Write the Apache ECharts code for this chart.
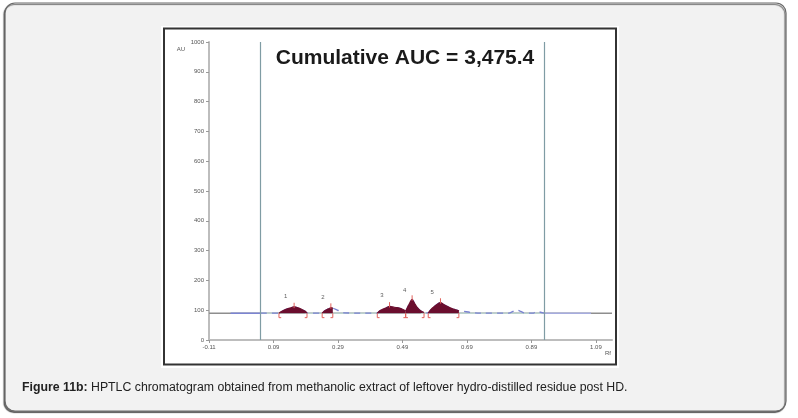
<!DOCTYPE html>
<html>
<head>
<meta charset="utf-8">
<script src="https://cdn.jsdelivr.net/npm/echarts@6/dist/echarts.min.js"></script>
<style>
  html, body { margin: 0; padding: 0; background: #fff; }
  #chart { width: 798px; height: 418px; }
</style>
</head>
<body>
<div id="chart"></div>
<script>
// tick labels
var rfTicks = [-0.11, 0.09, 0.29, 0.49, 0.69, 0.89, 1.09];
var auTicks = [0, 100, 200, 300, 400, 500, 600, 700, 800, 900, 1000];

// baseline level and solvent front / application lines (Rf)
var baselineAU = 90;
var frontRf = [0.051, 0.929];

// densitometer signal [Rf, AU]
var signalLeft = [[-0.043, 90], [0.051, 90]];
var signalMid = [
    [0.051, 90], [0.107, 90], [0.116, 96], [0.127, 102], [0.14, 107], [0.154, 111],
    [0.166, 108], [0.177, 103], [0.187, 97], [0.194, 91], [0.241, 90], [0.248, 97],
    [0.256, 102], [0.263, 106], [0.268, 109], [0.274, 107], [0.283, 103], [0.295, 97],
    [0.31, 91], [0.412, 90], [0.42, 98], [0.43, 104], [0.44, 108], [0.45, 113],
    [0.46, 111], [0.47, 109], [0.48, 107], [0.49, 103], [0.5, 97], [0.507, 112],
    [0.513, 125], [0.52, 136], [0.527, 124], [0.535, 110], [0.545, 99], [0.557, 92],
    [0.57, 91], [0.578, 102], [0.588, 112], [0.598, 120], [0.608, 126], [0.618, 119],
    [0.63, 112], [0.642, 106], [0.655, 101], [0.665, 98], [0.68, 96], [0.7, 93],
    [0.73, 90], [0.82, 90], [0.833, 96], [0.845, 100], [0.857, 96], [0.87, 90],
    [0.895, 90], [0.905, 95], [0.915, 94], [0.929, 90]
];
var signalRight = [[0.929, 90], [1.075, 90]];

// integrated peaks [Rf, AU]
var peak1 = [[0.107, 90], [0.116, 96], [0.127, 102], [0.14, 107], [0.154, 111], [0.166, 108], [0.177, 103], [0.187, 97], [0.194, 91]];
var peak2 = [[0.241, 90], [0.248, 97], [0.256, 102], [0.263, 106], [0.268, 109], [0.274, 107]];
var peak3 = [[0.412, 90], [0.42, 98], [0.43, 104], [0.44, 108], [0.45, 113], [0.46, 111], [0.47, 109], [0.48, 107], [0.49, 103], [0.5, 97]];
var peak4 = [[0.5, 97], [0.507, 112], [0.513, 125], [0.52, 136], [0.527, 124], [0.535, 110], [0.545, 99], [0.557, 92]];
var peak5 = [[0.57, 91], [0.578, 102], [0.588, 112], [0.598, 120], [0.608, 126], [0.618, 119], [0.63, 112], [0.642, 106], [0.655, 101], [0.665, 98]];
var peaks = [peak1, peak2, peak3, peak4, peak5];

// peak numbers and where they sit
var peakNames = ['1', '2', '3', '4', '5'];
var peakLabelPos = [[0.128, 145], [0.243, 143], [0.426, 149], [0.497, 165], [0.582, 159]];

var title = 'Cumulative AUC = 3,475.4';
var caption = 'HPTLC chromatogram obtained from methanolic extract of leftover hydro-distilled residue post HD.';

var peakColor = '#6b0e2e';
var markColor = '#e2625c';

var markerData = peaks.map(function (pk) {
    var top = pk[0];
    pk.forEach(function (d) { if (d[1] > top[1]) top = d; });
    return [pk[0][0], pk[pk.length - 1][0], top[0], top[1]];
});

var peakSeries = peaks.map(function (pk) {
    return {
        type: 'line',
        data: pk,
        symbol: 'none',
        smooth: 0.2,
        z: 4,
        lineStyle: {color: peakColor, width: 1.2},
        areaStyle: {color: peakColor, opacity: 1, origin: baselineAU},
        silent: true
    };
});

var myChart = echarts.init(document.getElementById('chart'));
myChart.setOption({
    animation: false,
    graphic: [
        {
            type: 'rect', z: -20, silent: true,
            shape: {x: 5, y: 3, width: 781, height: 408, r: 10},
            style: {fill: '#f2f2f2', stroke: '#6a6a6a', lineWidth: 1.2,
                shadowColor: 'rgba(0,0,0,0.55)', shadowOffsetX: -1, shadowOffsetY: 1.5, shadowBlur: 1}
        },
        {
            type: 'rect', z: -19, silent: true,
            shape: {x: 161, y: 26, width: 458, height: 342},
            style: {fill: '#ffffff'}
        },
        {
            type: 'rect', z: -18, silent: true,
            shape: {x: 164, y: 28.5, width: 452, height: 336},
            style: {fill: 'none', stroke: '#333', lineWidth: 2}
        },
        {
            type: 'text', z: 10, silent: true,
            x: 405, y: 58,
            style: {text: title, fill: '#1a1a1a', font: 'bold 21px "Liberation Sans", Arial, sans-serif',
                align: 'center', verticalAlign: 'middle'}
        },
        {
            type: 'text', z: 10, silent: true,
            x: 22, y: 388,
            style: {
                text: '{b|Figure 11b:} ' + caption,
                fill: '#222', font: '12.3px "Liberation Sans", Arial, sans-serif',
                verticalAlign: 'middle',
                rich: {b: {fontWeight: 'bold', fontSize: 12.3, fontFamily: '"Liberation Sans", Arial, sans-serif', fill: '#222'}}
            }
        }
    ],
    grid: {left: 209, right: 186, top: 42, bottom: 78},
    xAxis: {
        type: 'value',
        min: -0.11,
        max: 1.14,
        name: 'Rf',
        nameLocation: 'end',
        nameGap: -4,
        nameTextStyle: {fontSize: 6, color: '#555', align: 'center', verticalAlign: 'top', padding: [10, 0, 0, 0]},
        splitLine: {show: false},
        axisLine: {onZero: false, lineStyle: {color: '#bdbdbd', width: 2}},
        axisTick: {customValues: rfTicks, length: 3, lineStyle: {color: '#999'}},
        axisLabel: {customValues: rfTicks, fontSize: 6, color: '#555', margin: 4,
            formatter: function (v) { return v.toFixed(2); }}
    },
    yAxis: {
        type: 'value',
        min: 0,
        max: 1000,
        interval: 100,
        name: 'AU',
        nameLocation: 'end',
        nameGap: 7,
        nameTextStyle: {fontSize: 6, color: '#555', align: 'right', verticalAlign: 'top', padding: [11, 24, 0, 0]},
        splitLine: {show: false},
        axisLine: {show: true, onZero: false, lineStyle: {color: '#bdbdbd', width: 2}},
        axisTick: {show: true, length: 3, lineStyle: {color: '#999'}},
        axisLabel: {fontSize: 6, color: '#555', margin: 5,
            formatter: function (v) { return auTicks.indexOf(v) >= 0 ? String(v) : ''; }}
    },
    series: [
        {
            type: 'line',
            data: [[-0.11, baselineAU], [1.14, baselineAU]],
            symbol: 'none',
            z: 1,
            silent: true,
            lineStyle: {color: '#8e8e8e', width: 1.5},
            markLine: {
                symbol: 'none',
                silent: true,
                label: {show: false},
                lineStyle: {color: '#7f9ca4', width: 1.2, type: 'solid'},
                data: frontRf.map(function (x) { return {xAxis: x}; })
            }
        },
        {
            type: 'line',
            data: [[frontRf[0], baselineAU], [frontRf[1], baselineAU]],
            symbol: 'none',
            z: 2,
            silent: true,
            lineStyle: {color: '#bcd2ce', width: 1.5}
        },
        {
            type: 'line', data: signalLeft, symbol: 'none', z: 3, silent: true,
            lineStyle: {color: '#7b84d2', width: 1.5}
        },
        {
            type: 'line', data: signalMid, symbol: 'none', z: 3, silent: true, smooth: 0.3,
            lineStyle: {color: '#7b84d2', width: 1.3, type: [6, 5]}
        },
        {
            type: 'line', data: signalRight, symbol: 'none', z: 3, silent: true,
            lineStyle: {color: '#a6acdf', width: 1.5}
        }
    ].concat(peakSeries).concat([
        {
            type: 'custom',
            z: 5,
            silent: true,
            data: markerData,
            encode: {x: [0, 1, 2], y: 3},
            renderItem: function (params, api) {
                var s = api.value(0), e = api.value(1), a = api.value(2), h = api.value(3);
                var p = function (x, y) { return api.coord([x, y]); };
                var low = baselineAU - 15;
                var st = {stroke: markColor, fill: 'none', lineWidth: 1};
                return {
                    type: 'group',
                    children: [
                        {type: 'polyline', shape: {points: [p(s, baselineAU), p(s, low), p(s + 0.007, low)]}, style: st},
                        {type: 'polyline', shape: {points: [p(e, baselineAU), p(e, low), p(e - 0.007, low)]}, style: st},
                        {type: 'polyline', shape: {points: [p(a, h - 4), p(a, h + 14)]}, style: st}
                    ]
                };
            }
        },
        {
            type: 'scatter',
            z: 6,
            silent: true,
            symbolSize: 1,
            itemStyle: {color: 'rgba(0,0,0,0)'},
            data: peakNames.map(function (n, i) { return {name: n, value: peakLabelPos[i]}; }),
            label: {show: true, position: 'inside', formatter: '{b}', fontSize: 6, color: '#333'}
        }
    ])
});
</script>
</body>
</html>
